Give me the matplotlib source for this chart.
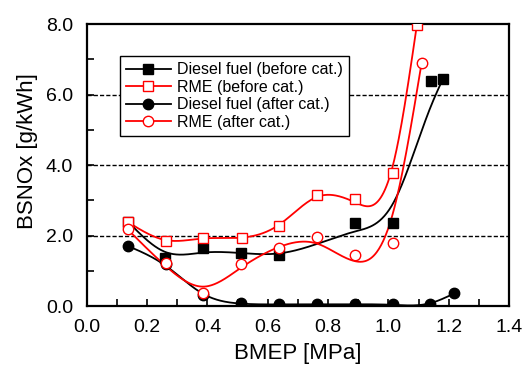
import numpy as np
import matplotlib
matplotlib.use("Agg")
import matplotlib.pyplot as plt
from matplotlib.ticker import MultipleLocator, FormatStrFormatter

plt.rcParams['font.family'] = ['Liberation Sans', 'DejaVu Sans']

# Data
diesel_before_x = [0.137, 0.259, 0.386, 0.511, 0.637, 0.889, 1.016, 1.140, 1.180]
diesel_before_y = [2.39, 1.35, 1.64, 1.51, 1.45, 2.36, 2.36, 6.39, 6.44]

rme_before_x = [0.137, 0.261, 0.386, 0.513, 0.638, 0.764, 0.889, 1.016, 1.094]
rme_before_y = [2.38, 1.85, 1.94, 1.94, 2.28, 3.14, 3.03, 3.78, 7.97]

diesel_after_x = [0.135, 0.261, 0.386, 0.511, 0.637, 0.763, 0.889, 1.014, 1.138, 1.218]
diesel_after_y = [1.71, 1.18, 0.31, 0.08, 0.05, 0.05, 0.05, 0.05, 0.05, 0.36]

rme_after_x = [0.135, 0.261, 0.386, 0.511, 0.637, 0.763, 0.889, 1.014, 1.110]
rme_after_y = [2.18, 1.21, 0.36, 1.19, 1.64, 1.95, 1.45, 1.80, 6.91]

labels = ["Diesel fuel (before cat.)", "RME (before cat.)",
          "Diesel fuel (after cat.)", "RME (after cat.)"]


def smoothing_spline(x, y, lam, n=400):
    """Reinsch cubic smoothing spline (endpoints pinned) on a fine grid."""
    x = np.asarray(x, float); y = np.asarray(y, float)
    m = len(x)
    h = np.diff(x)
    w = np.ones(m); w[0] = w[-1] = 1e4
    Winv = np.diag(1.0 / w)
    Q = np.zeros((m, m - 2)); R = np.zeros((m - 2, m - 2))
    for j in range(1, m - 1):
        k = j - 1
        Q[j - 1, k] = 1 / h[j - 1]
        Q[j, k] = -1 / h[j - 1] - 1 / h[j]
        Q[j + 1, k] = 1 / h[j]
        R[k, k] = (h[j - 1] + h[j]) / 3
        if k + 1 < m - 2:
            R[k, k + 1] = R[k + 1, k] = h[j] / 6
    gamma = np.linalg.solve(R + lam * Q.T @ Winv @ Q, Q.T @ y)
    a = y - lam * Winv @ Q @ gamma
    M = np.concatenate([[0.0], gamma, [0.0]])
    xs = np.linspace(x[0], x[-1], n)
    idx = np.clip(np.searchsorted(x, xs) - 1, 0, m - 2)
    x0 = x[idx]; x1 = x[idx + 1]; hh = x1 - x0
    A = (x1 - xs) / hh; B = (xs - x0) / hh
    ys = (A * a[idx] + B * a[idx + 1]
          + ((A ** 3 - A) * M[idx] + (B ** 3 - B) * M[idx + 1]) * hh ** 2 / 6)
    return xs, ys


fig = plt.figure(figsize=(5.26, 3.71), dpi=100)
ax = fig.add_axes([0.165, 0.175, 0.803, 0.760])

series = [
    (diesel_before_x, diesel_before_y, 'black', 's', 'black', 1.2e-4),
    (rme_before_x, rme_before_y, 'red', 's', 'white', 2e-5),
    (diesel_after_x, diesel_after_y, 'black', 'o', 'black', 3e-5),
    (rme_after_x, rme_after_y, 'red', 'o', 'white', 1.1e-4),
]

for (x, y, c, mk, fc, lam), lab in zip(series, labels):
    xs, ys = smoothing_spline(x, y, lam)
    ax.plot(xs, ys, color=c, lw=1.3, zorder=3)
    ms = 7 if mk == 's' else 7.5
    ax.plot(x, y, ls='none', marker=mk, ms=ms,
            mfc=fc, mec=c, mew=1.0, zorder=4)
    ax.plot([], [], color=c, lw=1.3, marker=mk, ms=ms,
            mfc=fc, mec=c, mew=1.0, label=lab)

for g in [2, 4, 6]:
    ax.axhline(g, color='black', lw=1.0, ls=(0, (3, 1.5)), zorder=1)

ax.set_xlim(0, 1.4)
ax.set_ylim(0, 8)
ax.xaxis.set_major_locator(MultipleLocator(0.2))
ax.xaxis.set_minor_locator(MultipleLocator(0.1))
ax.yaxis.set_major_locator(MultipleLocator(2.0))
ax.yaxis.set_minor_locator(MultipleLocator(1.0))
ax.xaxis.set_major_formatter(FormatStrFormatter('%.1f'))
ax.yaxis.set_major_formatter(FormatStrFormatter('%.1f'))
ax.tick_params(which='both', direction='in', top=False, right=False,
               labelsize=14, width=1.2, length=5)
ax.tick_params(axis='x', which='both', pad=9)
ax.tick_params(axis='y', which='both', pad=10)
for s in ax.spines.values():
    s.set_linewidth(1.6)

ax.set_xlabel('BMEP [MPa]', fontsize=16, labelpad=5)
ax.set_ylabel('BSNOx [g/kWh]', fontsize=16)
ax.yaxis.set_label_coords(-0.115, 0.55)

leg = ax.legend(loc='upper left', bbox_to_anchor=(0.078, 0.887), fontsize=11.5,
                frameon=True, fancybox=False, framealpha=1, edgecolor='black',
                handlelength=2.8, handletextpad=0.4, labelspacing=0.15,
                borderpad=0.4, borderaxespad=0)
leg.get_frame().set_linewidth(1.0)

fig.savefig('out.png', dpi=100)
